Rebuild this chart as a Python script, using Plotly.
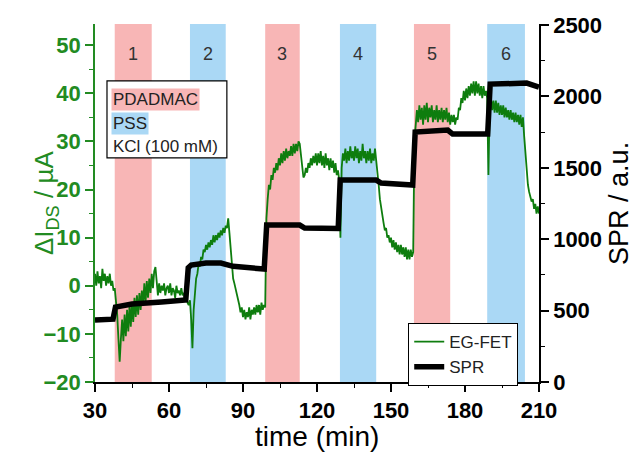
import numpy as np
import plotly.graph_objects as go

# ---------------------------------------------------------------
# Data
# ---------------------------------------------------------------
# EG-FET drain-source current change (µA), sampled every 0.5 min from 30 to 210 min
fet_time = np.arange(30.0, 210.0001, 0.5)
fet_current = [
    # 30–34.5
    2.5, 0.0, 3.0, 0.5, 2.0, -0.5, 3.5, 1.0, 2.5, 0.0,
    # 35–39.5
    2.0, 0.5, 2.5, 0.0, 1.0, -1.0, -0.5, -3.0, -6.0, -11.0,
    # 40–44.5
    -15.8, -11.0, -7.0, -11.5, -6.0, -10.5, -5.0, -9.5, -4.0, -8.5,
    # 45–49.5
    -3.5, -7.5, -2.5, -6.5, -2.0, -6.0, -1.5, -5.0, -1.0, -4.0,
    # 50–54.5
    0.5, -3.5, 1.0, -2.5, 1.5, -1.5, 2.5, -0.5, 3.0, 3.9,
    # 55–59.5
    0.0, -2.0, 0.5, -1.5, 0.0, -1.0, 0.5, -2.0, -0.5, 0.0,
    # 60–64.5
    -1.5, 0.5, -2.0, -0.5, -1.0, -2.5, 0.0, -1.5, -1.0, -2.0,
    # 65–69.5
    -0.5, -2.0, -1.5, -3.0, -2.0, -3.5, -4.0, -3.0, -7.0, -13.0,
    # 70–74.5
    -5.0, -1.0, 1.5, 2.5, 4.5, 4.0, 6.0, 5.5, 7.5, 7.0,
    # 75–79.5
    8.5, 7.5, 9.0, 8.0, 9.5, 8.5, 10.5, 9.0, 10.5, 9.5,
    # 80–84.5
    11.0, 10.0, 11.5, 10.5, 12.0, 11.0, 12.5, 12.0, 14.0, 11.0,
    # 85–89.5
    8.0, 4.0, 1.5, 0.5, -0.5, -2.0, -3.0, -4.0, -5.5, -4.5,
    # 90–94.5
    -6.5, -5.0, -7.0, -5.5, -6.5, -4.5, -7.0, -5.0, -6.0, -4.5,
    # 95–99.5
    -6.0, -4.0, -5.5, -4.0, -6.0, -3.5, -5.0, -4.0, -4.5, 14.0,
    # 100–104.5
    18.0, 21.0, 20.0, 23.0, 22.0, 24.5, 23.5, 25.5, 24.0, 26.5,
    # 105–109.5
    25.0, 27.5, 25.5, 28.0, 26.0, 28.5, 26.5, 28.0, 27.0, 29.0,
    # 110–114.5
    27.0, 29.5, 27.5, 29.5, 28.0, 30.0, 29.5, 27.0, 24.0, 22.5,
    # 115–119.5
    23.0, 24.5, 23.5, 25.5, 24.5, 26.5, 25.0, 27.0, 25.5, 27.5,
    # 120–124.5
    25.0, 27.5, 25.5, 28.0, 25.0, 27.0, 24.5, 27.5, 25.0, 26.5,
    # 125–129.5
    24.0, 26.5, 24.5, 26.0, 23.5, 25.5, 23.0, 24.0, 22.0, 10.0,
    # 130–134.5
    24.5, 27.5, 26.0, 28.5, 25.5, 28.0, 26.0, 29.0, 26.5, 28.0,
    # 135–139.5
    26.0, 29.0, 26.5, 28.5, 25.5, 28.0, 26.0, 29.5, 26.5, 28.0,
    # 140–144.5
    25.5, 28.0, 26.0, 28.5, 25.5, 27.5, 26.0, 28.5, 26.0, 24.0,
    # 145–149.5
    21.0, 18.0, 16.0, 14.5, 13.0, 11.5, 12.0, 10.0, 10.5, 9.0,
    # 150–154.5
    10.0, 8.0, 9.5, 7.5, 9.0, 7.0, 8.5, 6.5, 8.5, 6.5,
    # 155–159.5
    8.0, 6.0, 8.0, 5.5, 7.5, 5.5, 7.5, 6.0, 7.0, 30.0,
    # 160–164.5
    33.0, 36.5, 34.0, 37.5, 34.5, 37.0, 33.5, 37.5, 34.5, 38.0,
    # 165–169.5
    34.0, 37.0, 35.0, 37.5, 34.0, 36.5, 34.5, 37.5, 34.0, 36.5,
    # 170–174.5
    34.5, 37.0, 34.0, 36.5, 34.5, 37.0, 34.0, 36.0, 33.5, 35.5,
    # 175–179.5
    34.0, 35.5, 33.5, 35.0, 34.5, 37.0, 36.5, 39.0, 38.0, 40.5,
    # 180–184.5
    38.5, 41.0, 39.0, 41.5, 39.5, 42.0, 40.0, 42.5, 39.5, 42.5,
    # 185–189.5
    40.0, 42.0, 39.5, 41.5, 39.0, 41.5, 39.5, 40.5, 39.0, 23.0,
    # 190–194.5
    37.5, 39.0, 36.5, 38.5, 36.0, 38.5, 36.0, 38.0, 35.5, 37.5,
    # 195–199.5
    35.5, 37.5, 35.0, 37.0, 35.0, 36.5, 34.5, 36.5, 34.5, 36.0,
    # 200–204.5
    34.0, 36.0, 34.0, 35.5, 33.5, 35.5, 33.0, 35.0, 31.0, 27.0,
    # 205–209.5
    24.0, 21.0, 19.5, 18.5, 17.5, 18.0, 16.0, 17.0, 15.0, 16.5,
    # 210
    15.0,
]

# SPR signal (a.u.)
spr_time = [30, 37.3, 38.3, 45, 57, 66.8, 67.8, 69, 75, 81, 86, 90, 98.6, 99.6,
            113, 115, 128.6, 129.4, 144, 146, 158.8, 159.8, 173, 175, 189.2,
            190.2, 200, 205, 210]
spr_signal = [435, 440, 525, 546, 560, 574, 800, 819, 833, 833, 810, 805, 791, 1100,
              1099, 1078, 1075, 1414, 1414, 1393, 1379, 1750, 1764, 1736, 1736,
              2086, 2093, 2093, 2065]

# Injection windows (min): odd = PDADMAC, even = PSS
step_labels = ["1", "2", "3", "4", "5", "6"]
step_start = [38.0, 68.5, 99.0, 129.3, 159.3, 189.0]
step_end = [53.0, 83.0, 113.0, 144.0, 174.0, 204.3]

# ---------------------------------------------------------------
# Styling
# ---------------------------------------------------------------
FONT = "Arial, Liberation Sans, sans-serif"
PINK = "#f8b6b6"
BLUE = "#aad8f5"
LINE_GREEN = "#0e7d0e"
TEXT_GREEN = "#228b22"

fig = go.Figure()

fig.add_trace(go.Scatter(
    x=fet_time, y=fet_current, mode="lines", name="EG-FET",
    line=dict(color=LINE_GREEN, width=1.8), yaxis="y",
))
fig.add_trace(go.Scatter(
    x=spr_time, y=spr_signal, mode="lines", name="SPR",
    line=dict(color="black", width=5.5), yaxis="y2",
))

# shaded injection windows with their step numbers
for i, (lab, a, b) in enumerate(zip(step_labels, step_start, step_end)):
    fig.add_shape(type="rect", xref="x", yref="paper", x0=a, x1=b, y0=0, y1=1,
                  fillcolor=PINK if i % 2 == 0 else BLUE, line_width=0, layer="below")
    fig.add_annotation(x=(a + b) / 2, y=0.95, xref="x", yref="paper", text=lab,
                       showarrow=False, font=dict(family=FONT, size=18, color="#333333"))

# solution key (top left)
fig.add_shape(type="rect", xref="paper", yref="paper", x0=0.027, x1=0.297,
              y0=0.626, y1=0.841, line=dict(color="black", width=1.2),
              fillcolor="white", layer="above")
key_rows = [("PDADMAC", PINK, 0.788), ("PSS", BLUE, 0.721), ("KCl (100 mM)", "rgba(0,0,0,0)", 0.657)]
for text, bg, ypos in key_rows:
    fig.add_annotation(x=0.036, y=ypos, xref="paper", yref="paper", text=text,
                       xanchor="left", yanchor="middle", showarrow=False, bgcolor=bg,
                       borderpad=1, font=dict(family=FONT, size=17, color="#222222"))

# axis titles
fig.add_annotation(x=-0.154, y=0.5, xref="paper", yref="paper", text="ΔI<sub>DS</sub> / µA",
                   textangle=-90, showarrow=False,
                   font=dict(family=FONT, size=26, color=TEXT_GREEN))
fig.add_annotation(x=0.5, y=-0.152, xref="paper", yref="paper", text="time (min)",
                   showarrow=False, yanchor="middle",
                   font=dict(family=FONT, size=28, color="black"))
fig.add_annotation(x=1.18, y=0.5, xref="paper", yref="paper", text="SPR / a.u.",
                   textangle=-90, showarrow=False, xanchor="center",
                   font=dict(family=FONT, size=27, color="black"))

tickfont = dict(family=FONT, size=22, weight="bold")

fig.update_layout(
    width=636, height=453,
    margin=dict(l=95, r=97, t=24, b=71),
    paper_bgcolor="white", plot_bgcolor="white",
    showlegend=True,
    legend=dict(x=0.705, y=0.165, xanchor="left", yanchor="top",
                bordercolor="black", borderwidth=1.2, bgcolor="white",
                font=dict(family=FONT, size=17, color="#222222"),
                itemwidth=30, tracegroupgap=0),
    xaxis=dict(range=[30, 210], dtick=30, tick0=30, showgrid=False, zeroline=False,
               showline=True, linecolor="black", linewidth=1.5,
               ticks="outside", ticklen=8, tickwidth=1.5, tickcolor="black",
               minor=dict(dtick=15, ticks="outside", ticklen=4, tickwidth=1.2, tickcolor="black"),
               tickfont=dict(color="black", **tickfont)),
    yaxis=dict(range=[-20, 54.4], dtick=10, tick0=0, showgrid=False, zeroline=False,
               showline=True, linecolor=TEXT_GREEN, linewidth=1.5,
               ticks="outside", ticklen=8, tickwidth=1.5, tickcolor=TEXT_GREEN,
               minor=dict(dtick=5, ticks="outside", ticklen=4, tickwidth=1.2, tickcolor=TEXT_GREEN),
               tickfont=dict(color=TEXT_GREEN, **tickfont)),
    yaxis2=dict(range=[0, 2507], dtick=500, tick0=0, overlaying="y", side="right",
                showgrid=False, zeroline=False,
                showline=True, linecolor="black", linewidth=1.5,
                ticks="outside", ticklen=8, tickwidth=1.5, tickcolor="black",
                minor=dict(dtick=250, ticks="outside", ticklen=4, tickwidth=1.2, tickcolor="black"),
                tickfont=dict(color="black", **tickfont)),
)

fig.write_html("out.html")
